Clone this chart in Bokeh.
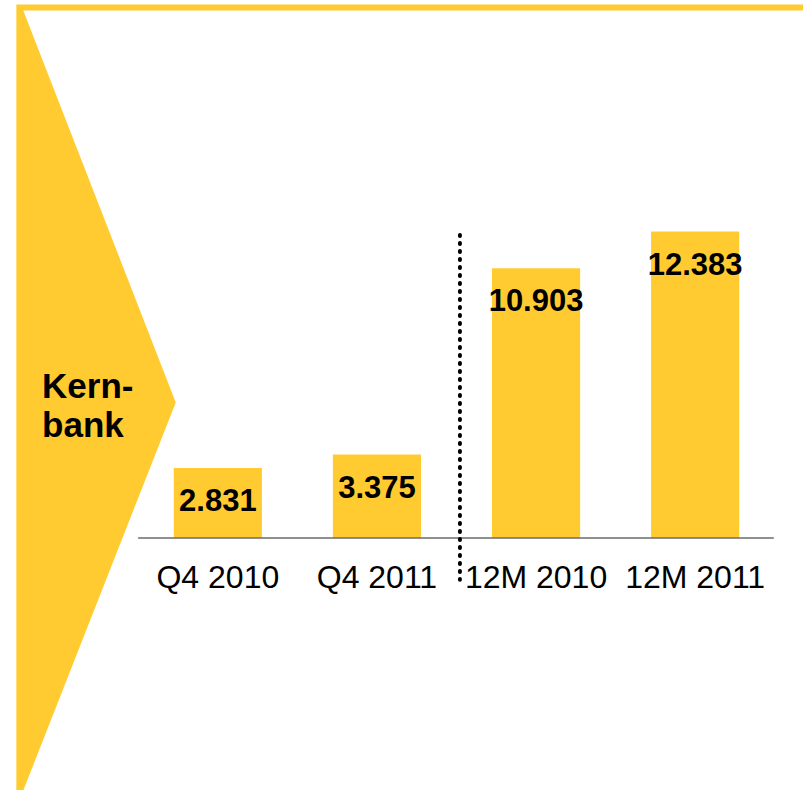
from bokeh.plotting import figure
from bokeh.models import Range1d, ColumnDataSource
from bokeh.core.properties import value
from bokeh.embed import file_html
from bokeh.resources import INLINE

# ---- data ----
categories = ["Q4 2010", "Q4 2011", "12M 2010", "12M 2011"]
values = [2.831, 3.375, 10.903, 12.383]
value_labels = ["2.831", "3.375", "10.903", "12.383"]
side_label = ["Kern-", "bank"]

YELLOW = "#FFCB31"
FONT = "Liberation Sans"

W, H = 803, 790
p = figure(width=W, height=H, output_backend="svg", toolbar_location=None,
           x_range=Range1d(-1.366, 3.681), y_range=Range1d(-10.2, 21.72),
           min_border=0, outline_line_color=None)
p.xaxis.visible = False
p.yaxis.visible = False
p.grid.visible = False
p.background_fill_color = "white"
p.border_fill_color = "white"

# reference-pixel ranges for the decorations
p.extra_x_ranges = {"px": Range1d(0, 811)}
p.extra_y_ranges = {"px": Range1d(798, 0)}

# top band + chevron
p.patch(x=[16, 811, 811, 23, 177, 23, 16], y=[4, 4, 10, 10, 406, 798, 798],
        x_range_name="px", y_range_name="px",
        fill_color=YELLOW, line_color=None)

src = ColumnDataSource(dict(x=list(range(len(categories))), v=values,
                            lab=value_labels, cat=categories,
                            zero=[0] * len(values)))

p.vbar(x="x", top="v", bottom=0, width=0.554, source=src,
       fill_color=YELLOW, line_color=None)

# baseline
p.segment(x0=[139], x1=[781], y0=[0], y1=[0], x_range_name="px",
          line_color="#6b6b6b", line_width=1.5)

# dotted separator
p.segment(x0=[464], x1=[464], y0=[237], y1=[585], x_range_name="px", y_range_name="px",
          line_color="black", line_width=4, line_dash="1 7", line_cap="round")

# value labels
p.text(x="x", y="v", text="lab", source=src, text_align="center",
       text_baseline="alphabetic", y_offset=32,
       text_font=value(FONT), text_font_style="bold", text_font_size="31px",
       text_color="black")

# category labels
p.text(x="x", y="zero", text="cat", source=src, text_align="center",
       text_baseline="alphabetic", y_offset=39,
       text_font=value(FONT), text_font_size="32px", text_color="black")

# side label
p.text(x=[42, 42], y=[389, 428], text=side_label, x_range_name="px", y_range_name="px",
       text_align="left", text_baseline="alphabetic",
       text_font=value(FONT), text_font_style="bold", text_font_size="35px",
       text_color="black")

open("out.html", "w").write(file_html(p, INLINE))
